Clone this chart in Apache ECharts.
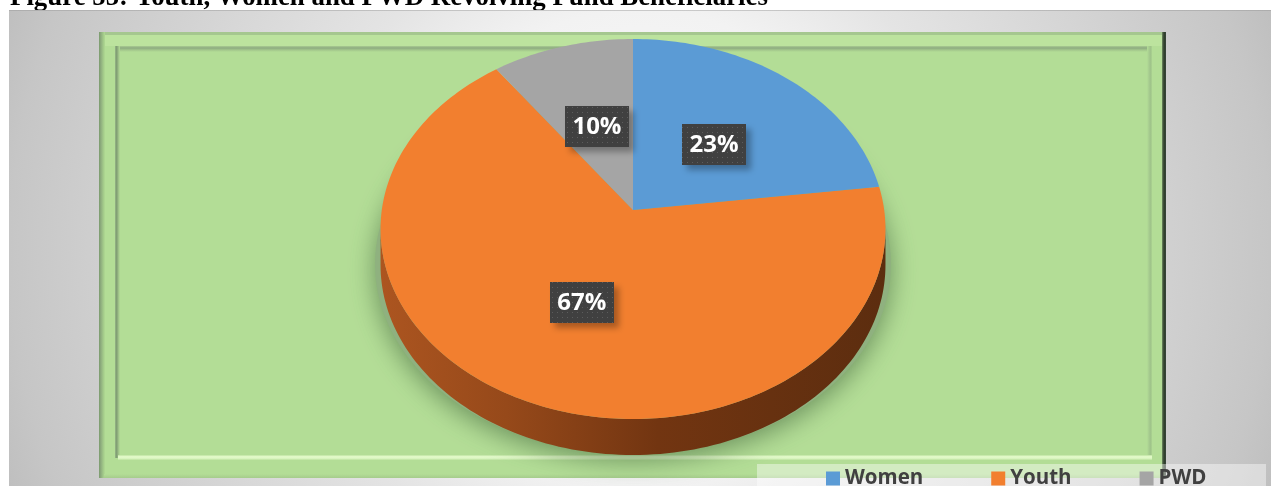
<!DOCTYPE html>
<html>
<head>
<meta charset="utf-8">
<title>Revolving Fund Beneficiaries</title>
<style>
  html, body { margin: 0; padding: 0; background: #fff; overflow: hidden; }
  #chart { width: 1271px; height: 486px; }
</style>
<script src="https://cdn.jsdelivr.net/npm/echarts@6/dist/echarts.min.js"></script>
</head>
<body>
<div id="chart"></div>
<script>
// Beneficiary shares, in percent
const categories = ['Women', 'Youth', 'PWD'];
const shares = [23, 67, 10];
const sliceColors = ['#5b9bd5', '#f27f2f', '#a5a5a5'];
const drawOrder = [3, 2, 4];
const figureTitle = 'Figure 55: Youth, Women and PWD Revolving Fund Beneficiaries';

// Tilted disc: the hub sits above the middle of the rim because of perspective
const disc = { cx: 633, cy: 210, a: 251.2, b: 188.1, k: 0.1, depth: 36 };

function project(theta, r) {
  const u = r * Math.sin(theta);
  const v = r * Math.cos(theta);
  const w = 1 + disc.k * v;
  return [disc.cx + disc.a * u / w, disc.cy - disc.b * v / w];
}

function arc(from, to, steps) {
  const pts = [];
  for (let i = 0; i <= steps; i++) {
    pts.push(project(from + (to - from) * i / steps, 1));
  }
  return pts;
}

// Small dotted fill used behind the percentage labels
function dottedFill() {
  const c = document.createElement('canvas');
  c.width = 5; c.height = 5;
  const g = c.getContext('2d');
  g.fillStyle = '#404040';
  g.fillRect(0, 0, 5, 5);
  g.fillStyle = '#5c5c5c';
  g.fillRect(2, 2, 1, 1);
  return { image: c, repeat: 'repeat' };
}
const dots = dottedFill();

function renderSlice(params, api) {
  const share = api.value(0);
  const before = api.value(1);
  const start = before / 100 * Math.PI * 2;
  const end = (before + share) / 100 * Math.PI * 2;
  const children = [];

  // The rim is visible between the leftmost and rightmost points of the disc
  const rimFrom = Math.acos(-disc.k);
  const rimTo = Math.PI * 2 - rimFrom;
  const wallFrom = Math.max(start, rimFrom);
  const wallTo = Math.min(end, rimTo);
  if (wallTo > wallFrom) {
    const top = arc(wallFrom, wallTo, 120);
    const bottom = top.map(p => [p[0], p[1] + disc.depth]).reverse();
    const wall = top.concat(bottom);
    // Soft cast shadow: a slightly wider footprint under the disc
    children.push({
      type: 'polygon',
      shape: {
        points: arc(0, Math.PI * 2, 180).map(p => [
          disc.cx + (p[0] - disc.cx) * 1.022,
          p[1] + disc.depth * 0.98
        ])
      },
      style: {
        fill: '#8fb17f',
        shadowColor: 'rgba(60,95,55,0.6)',
        shadowBlur: 26,
        shadowOffsetY: 6
      }
    });
    children.push({
      type: 'polygon',
      shape: { points: wall },
      style: {
        fill: new echarts.graphic.LinearGradient(0, 0, 1, 0, [
          { offset: 0, color: '#ac5520' },
          { offset: 0.25, color: '#96491a' },
          { offset: 0.55, color: '#723511' },
          { offset: 1, color: '#5c2d0f' }
        ])
      }
    });
  }

  const steps = Math.max(8, Math.round(share * 3));
  const points = [project(0, 0)].concat(arc(start, end, steps));
  children.push({
    type: 'polygon',
    shape: { points: points },
    style: { fill: api.visual('color') }
  });

  // Percentage tag halfway along the slice's middle radius
  const mid = project((start + end) / 2, 0.5);
  const tagW = 64, tagH = 41;
  children.push({
    type: 'rect',
    shape: { x: Math.round(mid[0] - tagW / 2 + 1), y: Math.round(mid[1] - tagH / 2 + 2), width: tagW, height: tagH },
    style: {
      fill: dots,
      shadowColor: 'rgba(0,0,0,0.3)',
      shadowBlur: 6,
      shadowOffsetX: 5,
      shadowOffsetY: 5
    }
  });
  children.push({
    type: 'text',
    x: mid[0] + 1,
    y: mid[1] + 3,
    style: {
      text: share + '%',
      fill: '#ffffff',
      font: 'bold 24px "Open Sans", sans-serif',
      align: 'center',
      verticalAlign: 'middle'
    }
  });

  return { type: 'group', children: children };
}

// Frame of the green panel, built from thin bevel strips
function strip(x, y, w, h, fill, z) {
  return { type: 'rect', z: z || 4, silent: true, shape: { x, y, width: w, height: h }, style: { fill } };
}
function fade(horizontal, stops) {
  return new echarts.graphic.LinearGradient(0, 0, horizontal ? 1 : 0, horizontal ? 0 : 1,
    stops.map((c, i) => ({ offset: i / (stops.length - 1), color: c })));
}

const frame = [
  {
    type: 'rect', z: 2, silent: true,
    shape: { x: 9, y: 10, width: 1262, height: 476 },
    style: {
      fill: new echarts.graphic.RadialGradient(640, 248, 700, [
        { offset: 0, color: '#ffffff' },
        { offset: 0.34, color: '#f2f2f2' },
        { offset: 0.48, color: '#e4e4e4' },
        { offset: 0.9, color: '#c6c6c6' },
        { offset: 1, color: '#bbbbbb' }
      ], true)
    }
  },
  strip(9, 10, 1262, 1, 'rgba(150,150,150,0.45)', 3),
  strip(99, 32, 1067, 446, '#b3dd96', 3),
  strip(99, 32, 1067, 3, '#a5c78f'),
  strip(103, 35, 1060, 11, '#bce39e'),
  strip(115, 46, 1037, 6, fade(false, ['#a9cc92', '#8dab80', '#a3c78c', '#b3dd96'])),
  strip(99, 32, 6, 446, fade(true, ['#7b9a6e', '#8fae7f', '#a0c688', '#b0da93'])),
  strip(115, 46, 5, 412, fade(true, ['#96b587', '#7f9d72', '#9dbf87', '#b3dd96'])),
  strip(1147, 46, 5, 412, fade(true, ['#b3dd96', '#a9cf91', '#9fc38a', '#aad290'])),
  strip(1162, 32, 4, 446, fade(true, ['#6f8a62', '#2e3d2a', '#38463a'])),
  strip(118, 455, 1034, 5, fade(false, ['#bde3a0', '#e4fbcb', '#dcf6c2', '#bce29f'])),
  strip(104, 474, 1058, 4, fade(false, ['#b3dd96', '#a5cc8c']))
];
const legendPlate = {
  type: 'rect', z: 7, silent: true,
  shape: { x: 757, y: 464, width: 509, height: 22 },
  style: { fill: 'rgba(255,255,255,0.42)' }
};

let running = 0;
const series = categories.map((name, i) => {
  const item = { value: [shares[i], running] };
  running += shares[i];
  return {
    name: name,
    type: 'custom',
    coordinateSystem: 'none',
    z: drawOrder[i] + 5,
    silent: true,
    animation: false,
    itemStyle: { color: sliceColors[i] },
    renderItem: renderSlice,
    data: [item]
  };
});

const chart = echarts.init(document.getElementById('chart'));
chart.setOption({
  animation: false,
  backgroundColor: '#ffffff',
  title: {
    text: figureTitle,
    left: 10,
    top: -15,
    padding: 0,
    z: 1,
    textStyle: { fontFamily: '"Liberation Serif", serif', fontWeight: 'bold', fontSize: 26.85, color: '#000000' }
  },
  legend: {
    data: categories,
    left: 826,
    top: 468,
    padding: 0,
    z: 20,
    icon: 'rect',
    itemWidth: 14,
    itemHeight: 14,
    itemGap: 68,
    itemStyle: { borderWidth: 0 },
    selectedMode: false,
    textStyle: { fontFamily: '"Open Sans", sans-serif', fontWeight: 'bold', fontSize: 20.5, color: '#404040', padding: [0, 0, 0, 0] }
  },
  graphic: { elements: frame.concat([legendPlate]) },
  series: series
});
</script>
</body>
</html>
